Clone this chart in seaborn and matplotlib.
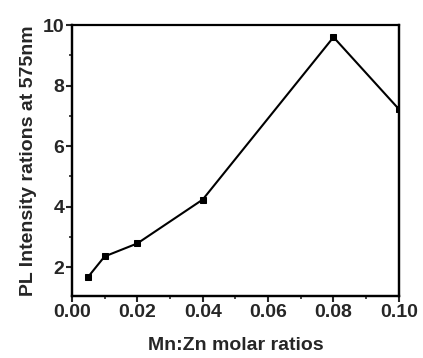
import numpy as np
import pandas as pd
import seaborn as sns
import matplotlib.pyplot as plt
from matplotlib.ticker import MultipleLocator

ratios = [0.005, 0.01, 0.02, 0.04, 0.08, 0.10]
intensity = [1.68, 2.35, 2.78, 4.23, 9.6, 7.22]
xtick_labels = ["0.00", "0.02", "0.04", "0.06", "0.08", "0.10"]

df = pd.DataFrame({"ratio": ratios, "intensity": intensity})

sns.set_style("ticks")
plt.rcParams["font.family"] = ["Liberation Sans", "DejaVu Sans"]

fig = plt.figure(figsize=(4.23, 3.58), dpi=100)
pos = [0.170, 0.173, 0.773, 0.757]
ax = fig.add_axes(pos)

sns.lineplot(data=df, x="ratio", y="intensity", ax=ax, color="black",
             marker="s", markersize=5, markeredgecolor="black", linewidth=1.5)
ax.set_xlim(0, 0.10)
ax.set_ylim(1.04, 10)
ax.set_xticks([0, 0.02, 0.04, 0.06, 0.08, 0.10])
ax.set_xticklabels(xtick_labels)
ax.set_yticks([2, 4, 6, 8, 10])
ax.xaxis.set_minor_locator(MultipleLocator(0.01))
ax.yaxis.set_minor_locator(MultipleLocator(1))

ax.tick_params(which="major", direction="out", length=4, width=1.5, labelsize=14, pad=1.5)
ax.tick_params(which="minor", direction="out", length=2.5, width=1.2)
for lab in ax.get_xticklabels() + ax.get_yticklabels():
    lab.set_fontweight("bold")

ax.set_xlabel("Mn:Zn molar ratios", fontsize=14, fontweight="bold", labelpad=12)
ax.set_ylabel("PL Intensity rations at 575nm", fontsize=14, fontweight="bold", labelpad=4)

for s in ax.spines.values():
    s.set_visible(True)
    s.set_linewidth(1.6)
    s.set_color("black")

# overlay axes only for the closed box frame
frame = fig.add_axes(pos, facecolor="none")
frame.set_xticks([])
frame.set_yticks([])
for name, s in frame.spines.items():
    s.set_visible(True)
    s.set_color("black")
    s.set_linewidth(1.2 if name == "top" else 1.6)

fig.savefig("out.png", dpi=100)
